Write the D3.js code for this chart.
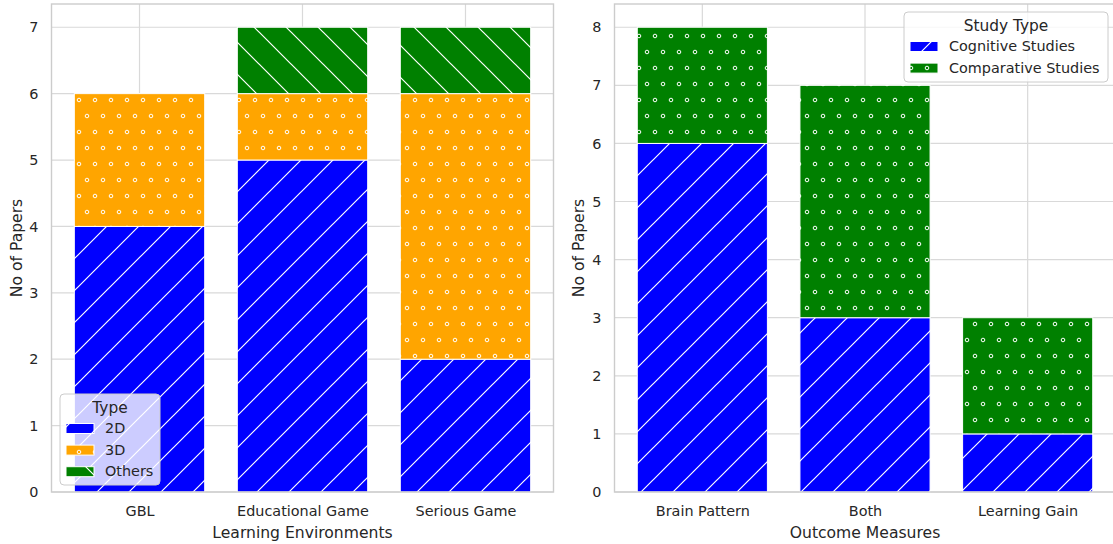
<!DOCTYPE html>
<html>
<head>
<meta charset="utf-8">
<script src="https://cdn.jsdelivr.net/npm/d3@7"></script>
<style>
    body { margin: 0; background: #fff; overflow: hidden; }
    text { font-family: "DejaVu Sans", sans-serif; fill: #262626; }
</style>
</head>
<body>
<div id="wrapper"></div>
<script>
// left panel data
const envCategories = ["GBL", "Educational Game", "Serious Game"]
const envTypes = ["2D", "3D", "Others"]
const env2D = [4, 5, 2]
const env3D = [2, 1, 4]
const envOthers = [0, 1, 1]

// right panel data
const outcomeCategories = ["Brain Pattern", "Both", "Learning Gain"]
const studyTypes = ["Cognitive Studies", "Comparative Studies"]
const cognitive = [6, 3, 1]
const comparative = [2, 4, 2]

const leftTicks = [0, 1, 2, 3, 4, 5, 6, 7]
const rightTicks = [0, 1, 2, 3, 4, 5, 6, 7, 8]

window.addEventListener("load", paint)

function paint() {
    const width = 1113, height = 544

    const svg = d3.select("#wrapper")
        .append("svg")
            .attr("width", width)
            .attr("height", height)
            .style("display", "block")

    makePatterns(svg)

    const leftData = envCategories.map((c, i) => ({cat: c, "2D": env2D[i], "3D": env3D[i], "Others": envOthers[i]}))
    const rightData = outcomeCategories.map((c, i) => ({cat: c, "Cognitive Studies": cognitive[i], "Comparative Studies": comparative[i]}))

    svg.call(drawPanel, {
        x0: 51.5, x1: 553.5, y0: 4, y1: 492,
        data: leftData, cats: envCategories, keys: envTypes,
        fills: ["url(#hatch-blue)", "url(#dots-orange)", "url(#back-green)"],
        yMax: 7 * 1.05, ticks: leftTicks,
        xLabel: "Learning Environments", yLabelX: 17,
        legend: {x: 60, y: 394, w: 100, h: 91, title: "Type", labels: envTypes}
    })

    // right axes runs slightly past the picture edge
    svg.call(drawPanel, {
        x0: 614.5, x1: 1115.5, y0: 4, y1: 492,
        data: rightData, cats: outcomeCategories, keys: studyTypes,
        fills: ["url(#hatch-blue)", "url(#dots-green)"],
        yMax: 8 * 1.05, ticks: rightTicks,
        xLabel: "Outcome Measures", yLabelX: 579,
        legend: {x: 904, y: 12, w: 204, h: 70, title: "Study Type", labels: studyTypes}
    })
}

function makePatterns(svg) {
    const defs = svg.append("defs")

    // "/" hatch
    const slash = defs.append("pattern").attr("id", "hatch-blue")
        .attr("patternUnits", "userSpaceOnUse")
        .attr("width", 32).attr("height", 32)
        .attr("x", 13).attr("y", 0)
    slash.append("rect").attr("width", 32).attr("height", 32).attr("fill", "#0000ff")
    slash.append("path").attr("d", "M0,32L32,0M-8,8L8,-8M24,40L40,24")
        .attr("stroke", "white").attr("stroke-width", 1.2)

    // "\" hatch
    const back = defs.append("pattern").attr("id", "back-green")
        .attr("patternUnits", "userSpaceOnUse")
        .attr("width", 32).attr("height", 32)
        .attr("x", 3).attr("y", 0)
    back.append("rect").attr("width", 32).attr("height", 32).attr("fill", "#008000")
    back.append("path").attr("d", "M0,0L32,32M-8,24L8,40M24,-8L40,8")
        .attr("stroke", "white").attr("stroke-width", 1.2)

    // "o" hatch
    const dotsFor = (id, color) => {
        const p = defs.append("pattern").attr("id", id)
            .attr("patternUnits", "userSpaceOnUse")
            .attr("width", 16).attr("height", 32)
            .attr("x", 15).attr("y", 4)
        p.append("rect").attr("width", 16).attr("height", 32).attr("fill", color)
        const pts = [[0, 0], [16, 0], [0, 32], [16, 32], [8, 16]]
        p.selectAll("circle").data(pts).join("circle")
            .attr("cx", d => d[0]).attr("cy", d => d[1]).attr("r", 1.8)
            .attr("fill", "none").attr("stroke", "white").attr("stroke-width", 1)
    }
    dotsFor("dots-orange", "#ffa500")
    dotsFor("dots-green", "#008000")
}

function drawPanel(svg, o) {
    const g = svg.append("g")

    const x = d3.scaleLinear()
        .domain([-0.4 - 0.14, o.cats.length - 1 + 0.4 + 0.14])
        .range([o.x0, o.x1])
    const y = d3.scaleLinear().domain([0, o.yMax]).range([o.y1, o.y0])

    // grid
    g.append("g").selectAll("line").data(o.ticks).join("line")
        .attr("x1", o.x0).attr("x2", o.x1)
        .attr("y1", d => y(d)).attr("y2", d => y(d))
        .attr("stroke", "#d9d9d9").attr("stroke-width", 1.2)
    g.append("g").selectAll("line").data(o.cats).join("line")
        .attr("x1", (d, i) => x(i)).attr("x2", (d, i) => x(i))
        .attr("y1", o.y0).attr("y2", o.y1)
        .attr("stroke", "#d9d9d9").attr("stroke-width", 1.2)

    // bars
    const stack = d3.stack().keys(o.keys)(o.data)
    stack.forEach((layer, k) => {
        g.append("g").selectAll("rect").data(layer).join("rect")
            .attr("x", (d, i) => x(i - 0.4))
            .attr("width", x(0.4) - x(-0.4))
            .attr("y", d => y(d[1]))
            .attr("height", d => y(d[0]) - y(d[1]))
            .attr("fill", o.fills[k])
            .attr("stroke", "white").attr("stroke-width", 1)
    })

    // frame
    g.append("rect")
        .attr("x", o.x0).attr("y", o.y0)
        .attr("width", o.x1 - o.x0).attr("height", o.y1 - o.y0)
        .attr("fill", "none").attr("stroke", "#cccccc").attr("stroke-width", 1.4)

    // y axis
    const yAxis = d3.axisLeft(y).tickValues(o.ticks).tickSize(0).tickPadding(13)
    g.append("g").attr("transform", `translate(${o.x0},0)`).call(yAxis)
        .call(a => a.select(".domain").remove())
        .selectAll("text").style("font-size", "14.4px").attr("fill", "#262626")

    // x axis
    const xAxis = d3.axisBottom(x).tickValues(d3.range(o.cats.length))
        .tickFormat(i => o.cats[i]).tickSize(0).tickPadding(14)
    g.append("g").attr("transform", `translate(0,${o.y1})`).call(xAxis)
        .call(a => a.select(".domain").remove())
        .selectAll("text").style("font-size", "14.4px").attr("fill", "#262626")

    g.append("text")
        .attr("x", (o.x0 + o.x1) / 2).attr("y", 538)
        .attr("text-anchor", "middle").style("font-size", "15.6px")
        .text(o.xLabel)

    g.append("text")
        .attr("transform", `translate(${o.yLabelX},${(o.y0 + o.y1) / 2}) rotate(-90)`)
        .attr("text-anchor", "middle").attr("dy", "0.35em").style("font-size", "15.6px")
        .text("No of Papers")

    // legend
    const L = o.legend
    const lg = g.append("g")
    lg.append("rect")
        .attr("x", L.x).attr("y", L.y).attr("width", L.w).attr("height", L.h)
        .attr("rx", 4)
        .attr("fill", "white").attr("fill-opacity", 0.8)
        .attr("stroke", "#cccccc").attr("stroke-width", 1)
    lg.append("text")
        .attr("x", L.x + L.w / 2).attr("y", L.y + 19)
        .attr("text-anchor", "middle").style("font-size", "15.4px")
        .text(L.title)
    const rowY = i => L.y + 34 + i * 21.6
    lg.selectAll("rect.patch").data(L.labels).join("rect")
        .attr("class", "patch")
        .attr("x", L.x + 6).attr("y", (d, i) => rowY(i) - 4.5)
        .attr("width", 28).attr("height", 10)
        .attr("fill", (d, i) => o.fills[i])
        .attr("stroke", "white").attr("stroke-width", 1)
    lg.selectAll("text.lab").data(L.labels).join("text")
        .attr("class", "lab")
        .attr("x", L.x + 45).attr("y", (d, i) => rowY(i))
        .attr("dy", "0.35em").style("font-size", "14.4px")
        .text(d => d)
}
</script>
</body>
</html>
